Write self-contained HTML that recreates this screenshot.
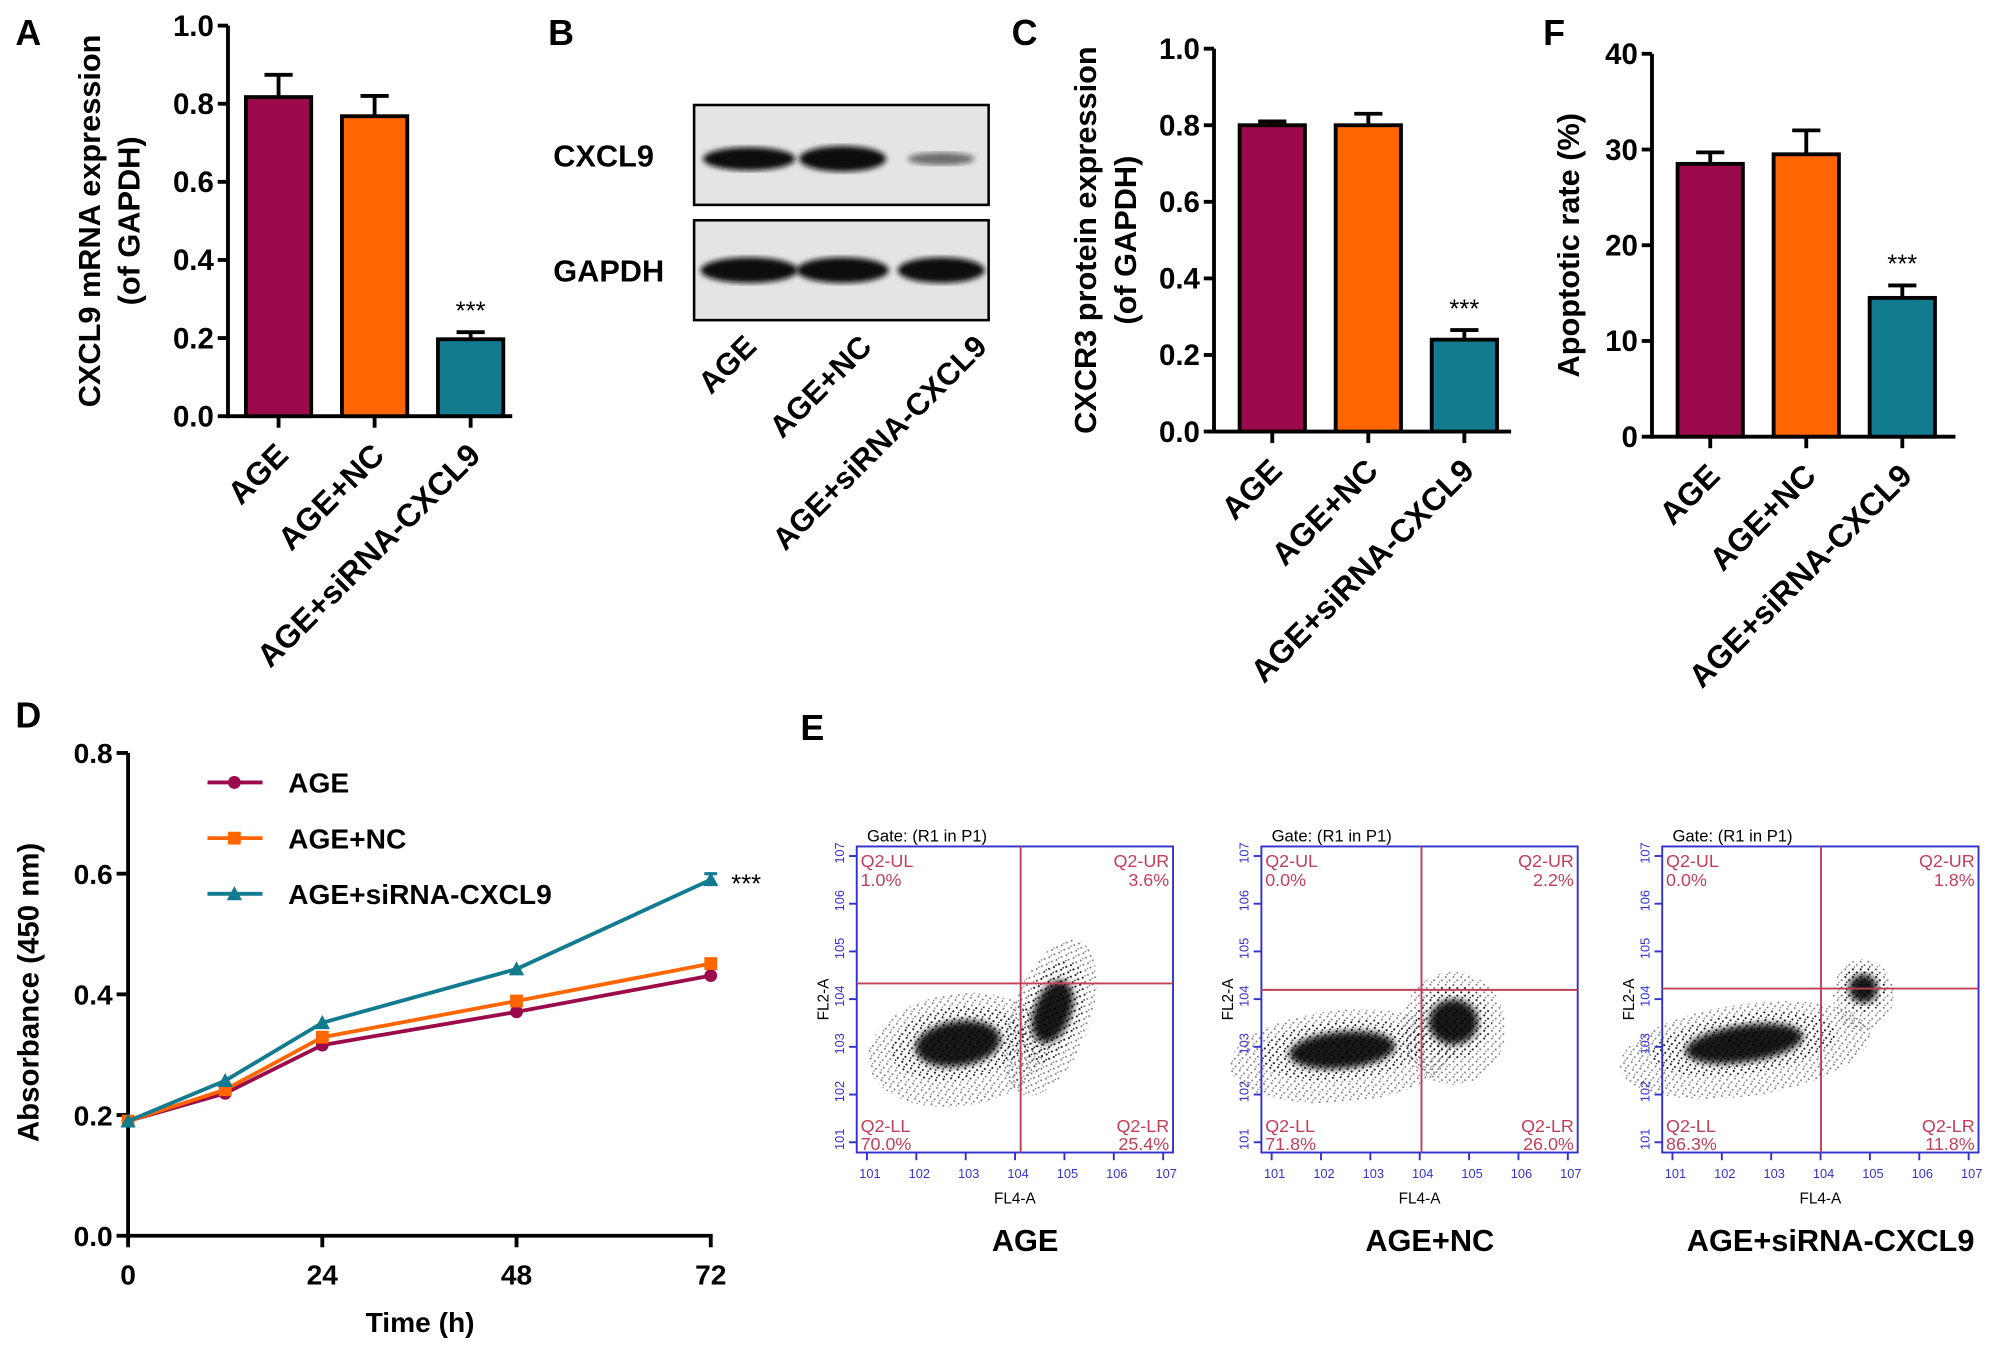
<!DOCTYPE html>
<html><head><meta charset="utf-8">
<style>
html,body{margin:0;padding:0;background:#fff;}
svg{display:block;}
text{font-family:"Liberation Sans",Arial,sans-serif;}
</style></head>
<body>
<svg id="fig" width="2008" height="1351" viewBox="0 0 1568 1055" xmlns="http://www.w3.org/2000/svg">
<defs>
<filter id="blur2"><feGaussianBlur stdDeviation="2"/></filter>
<filter id="blur3"><feGaussianBlur stdDeviation="3"/></filter>
<pattern id="speckle" width="6" height="6" patternUnits="userSpaceOnUse">
<circle cx="1" cy="1" r="0.8" fill="#000"/><circle cx="4" cy="3.5" r="0.8" fill="#000"/><circle cx="2" cy="5" r="0.6" fill="#000"/>
</pattern>
</defs>
<g id="root"></g>
</svg>
<script>
// ---- data ----
const barCategories = ["AGE", "AGE+NC", "AGE+siRNA-CXCL9"];
const barColors = ["#9b0a4b", "#ff6600", "#137b8f"];
const mrnaValues = [0.817, 0.768, 0.197];
const mrnaErrors = [0.057, 0.052, 0.018];
const mrnaTicks = ["0.0", "0.2", "0.4", "0.6", "0.8", "1.0"];
const cxcr3Values = [0.80, 0.80, 0.24];
const cxcr3Errors = [0.01, 0.03, 0.025];
const cxcr3Ticks = ["0.0", "0.2", "0.4", "0.6", "0.8", "1.0"];
const apopValues = [28.5, 29.5, 14.5];
const apopErrors = [1.2, 2.5, 1.3];
const apopTicks = ["0", "10", "20", "30", "40"];
const timePoints = [0, 12, 24, 48, 72];
const timeTicks = ["0", "24", "48", "72"];
const absTicks = ["0.0", "0.2", "0.4", "0.6", "0.8"];
const absAGE = [0.19, 0.236, 0.316, 0.371, 0.431];
const absNC = [0.19, 0.242, 0.329, 0.389, 0.451];
const absSi = [0.19, 0.257, 0.353, 0.442, 0.590];
const flowLabels = ["AGE", "AGE+NC", "AGE+siRNA-CXCL9"];
const flowUL = ["1.0%", "0.0%", "0.0%"];
const flowUR = ["3.6%", "2.2%", "1.8%"];
const flowLL = ["70.0%", "71.8%", "86.3%"];
const flowLR = ["25.4%", "26.0%", "11.8%"];

const NS = "http://www.w3.org/2000/svg";
const root = document.getElementById("root");
function el(tag, attrs, parent, txt) {
  const e = document.createElementNS(NS, tag);
  for (const k in attrs) e.setAttribute(k, attrs[k]);
  if (txt !== undefined) e.textContent = txt;
  (parent || root).appendChild(e);
  return e;
}

function panelLetter(t, x, y) {
  const e = el("text", {x: x, y: y, "font-size": 28, "font-weight": "bold"}, root, t);
  
  
}

function barChart(name, ax, x1, yTop, yBot, ticks, maxV, vals, errs, titles, titleX, off) {
  const g = el("g", {});
  
  
  const ys = v => yBot - (v / maxV) * (yBot - yTop);
  const ya = el("line", {x1: ax, y1: yTop, x2: ax, y2: yBot + 1.5, stroke: "#000", "stroke-width": 3}, g);
  
  
  const xa = el("line", {x1: ax - 1.5, y1: yBot, x2: x1, y2: yBot, stroke: "#000", "stroke-width": 3}, g);
  
  
  ticks.forEach((t) => {
    const y = ys(parseFloat(t));
    el("line", {x1: ax - 8, y1: y, x2: ax, y2: y, stroke: "#000", "stroke-width": 3}, g);
    const tl = el("text", {x: ax - 11, y: y + 8, "font-size": 23, "font-weight": "bold", "text-anchor": "end"}, g, t);
    
    
  });
  vals.forEach((v, i) => {
    const bw = 51;
    const bx = ax + off + i * 75;
    const cx = bx + bw / 2;
    const eb = el("path", {d: `M${cx} ${ys(v)} V${ys(v + errs[i])} M${cx - 11} ${ys(v + errs[i])} H${cx + 11}`, stroke: "#000", "stroke-width": 3, fill: "none"}, g);
    
    
    const r = el("rect", {x: bx, y: ys(v), width: bw, height: yBot - ys(v), fill: barColors[i], stroke: "#000", "stroke-width": 3}, g);
    
    
    el("line", {x1: cx, y1: yBot, x2: cx, y2: yBot + 9, stroke: "#000", "stroke-width": 3}, g);
    const cl = el("text", {x: 0, y: 0, "font-size": 25, "font-weight": "bold", "text-anchor": "end", transform: `translate(${cx + 9},${yBot + 32}) rotate(-45)`}, g, barCategories[i]);
    
    
    if (i === 2) {
      const s = el("text", {x: cx, y: ys(v + errs[i]) - 10, "font-size": 20, "text-anchor": "middle"}, g, "***");
      
      
    }
  });
  const cy = (yTop + yBot) / 2;
  titles.forEach((t, i) => {
    const tt = el("text", {x: 0, y: 0, "font-size": 24, "font-weight": "bold", "text-anchor": "middle", transform: `translate(${titleX + i * 31},${cy}) rotate(-90)`}, g, t);
    
    
  });
}

panelLetter("A", 12, 35);
barChart("chart-a-mrna", 178, 400, 20, 325, mrnaTicks, 1.0, mrnaValues, mrnaErrors, ["CXCL9 mRNA expression", "(of GAPDH)"], 78, 14);
panelLetter("C", 790, 35);
barChart("chart-c-cxcr3", 948, 1180, 38, 337, cxcr3Ticks, 1.0, cxcr3Values, cxcr3Errors, ["CXCR3 protein expression", "(of GAPDH)"], 856, 20);
panelLetter("F", 1205, 35);
barChart("chart-f-apoptosis", 1290, 1527, 42, 341, apopTicks, 40, apopValues, apopErrors, ["Apoptotic rate (%)"], 1233, 20);

// ---- Panel B blot ----
panelLetter("B", 428, 35);
(function () {
  const g = el("g", {});
  
  
  const boxes = [[82, 160, "CXCL9"], [172, 250, "GAPDH"]];
  boxes.forEach((b, k) => {
    const r = el("rect", {x: 542, y: b[0], width: 230, height: b[1] - b[0], fill: "#e4e4e4", stroke: "#000", "stroke-width": 2}, g);
    
    
    const l = el("text", {x: 432, y: (b[0] + b[1]) / 2 + 9, "font-size": 24, "font-weight": "bold"}, g, b[2]);
    
    
    const cy = (b[0] + b[1]) / 2 + (k === 0 ? 3 : 0);
    const lanes = [585, 658, 735];
    const widths = k === 0 ? [36, 34, 26] : [38, 36, 34];
    const hs = k === 0 ? [9, 10, 5] : [10, 10, 10];
    const ops = k === 0 ? [1, 1, 0.55] : [1, 1, 1];
    lanes.forEach((lx, j) => {
      const band = el("ellipse", {cx: lx, cy: cy, rx: widths[j], ry: hs[j], fill: "#111", opacity: ops[j], filter: "url(#blur2)"}, g);
      
      
    });
  });
  const ends = [592, 682, 772];
  barCategories.forEach((c, i) => {
    const t = el("text", {x: 0, y: 0, "font-size": 24, "font-weight": "bold", "text-anchor": "end", transform: `translate(${ends[i]},${272}) rotate(-45)`}, g, c);
    
    
  });
})();

// ---- Panel D line chart ----
panelLetter("D", 12, 568);
(function () {
  const g = el("g", {});
  
  
  const ax = 100, x1 = 555, yTop = 588, yBot = 965;
  const xs = t => ax + t / 72 * (x1 - ax);
  const ys = v => yBot - v / 0.8 * (yBot - yTop);
  el("line", {x1: ax, y1: yTop, x2: ax, y2: yBot + 1.5, stroke: "#000", "stroke-width": 3}, g);
  el("line", {x1: ax - 1.5, y1: yBot, x2: x1 + 1.5, y2: yBot, stroke: "#000", "stroke-width": 3}, g);
  absTicks.forEach(t => {
    const y = ys(parseFloat(t));
    el("line", {x1: ax - 9, y1: y, x2: ax, y2: y, stroke: "#000", "stroke-width": 3}, g);
    const tl = el("text", {x: ax - 12, y: y + 8, "font-size": 22, "font-weight": "bold", "text-anchor": "end"}, g, t);
    
    
  });
  timeTicks.forEach(t => {
    const x = xs(parseFloat(t));
    el("line", {x1: x, y1: yBot, x2: x, y2: yBot + 9, stroke: "#000", "stroke-width": 3}, g);
    const tl = el("text", {x: x, y: yBot + 38, "font-size": 22, "font-weight": "bold", "text-anchor": "middle"}, g, t);
    
    
  });
  const xt = el("text", {x: 328, y: 1040, "font-size": 22, "font-weight": "bold", "text-anchor": "middle"}, g, "Time (h)");
  
  
  const yt = el("text", {x: 0, y: 0, "font-size": 23, "font-weight": "bold", "text-anchor": "middle", transform: `translate(30,775) rotate(-90)`}, g, "Absorbance (450 nm)");
  
  
  const series = [[absAGE, barColors[0], "circle"], [absNC, barColors[1], "square"], [absSi, barColors[2], "triangle"]];
  function marker(shape, x, y, c, parent) {
    if (shape === "circle") return el("circle", {cx: x, cy: y, r: 5, fill: c}, parent);
    if (shape === "square") return el("rect", {x: x - 5, y: y - 5, width: 10, height: 10, fill: c}, parent);
    return el("path", {d: `M${x} ${y - 6} L${x + 6} ${y + 5} L${x - 6} ${y + 5} Z`, fill: c}, parent);
  }
  series.forEach((s, k) => {
    const pts = timePoints.map((t, i) => xs(t) + "," + ys(s[0][i])).join(" ");
    const pl = el("polyline", {points: pts, fill: "none", stroke: s[1], "stroke-width": 3}, g);
    
    
    timePoints.forEach((t, i) => {
      const m = marker(s[2], xs(t), ys(s[0][i]), s[1], g);
      
      
    });
    const ly = 611 + k * 43.5;
    const lg = el("g", {}, g);
    
    
    el("line", {x1: 162, y1: ly, x2: 205, y2: ly, stroke: s[1], "stroke-width": 3}, lg);
    marker(s[2], 183, ly, s[1], lg);
    el("text", {x: 225, y: ly + 8, "font-size": 22, "font-weight": "bold"}, lg, barCategories[k]);
  });
  const last = absSi.length - 1;
  el("path", {d: `M${xs(72)} ${ys(absSi[last] - 0.01)} V${ys(absSi[last] + 0.01)} M${xs(72) - 5} ${ys(absSi[last] + 0.01)} H${xs(72) + 5}`, stroke: barColors[2], "stroke-width": 2.5}, g);
  const st = el("text", {x: 571, y: ys(absSi[last]) + 10, "font-size": 20}, g, "***");
  
  
})();

// ---- Panel E flow cytometry ----
panelLetter("E", 625, 578);
(function () {
  const offs = [0, 316, 629];
  const cross = [[797, 768], [1110, 773], [1422, 772]];
  const blobs = [
    [[748, 815, 42, 22, -8], [822, 790, 18, 32, 20]],
    [[1048, 820, 52, 18, -5], [1135, 798, 24, 22, 0]],
    [[1362, 815, 58, 18, -8], [1455, 772, 14, 14, 0]]
  ];
  offs.forEach((o, p) => {
    const g = el("g", {});
    
    
    const L = 669 + o, R = 916 + o, T = 661, B = 900;
    el("text", {x: L + 8, y: T - 4, "font-size": 13}, g, "Gate: (R1 in P1)");
    blobs[p].forEach(b => {
      el("ellipse", {cx: b[0], cy: b[1] + 5, rx: b[2] * 1.7, ry: b[3] * 2.0, fill: "url(#speckle)", opacity: 0.5, transform: `rotate(${b[4]} ${b[0]} ${b[1]})`}, g);
      el("ellipse", {cx: b[0], cy: b[1], rx: b[2] * 1.25, ry: b[3] * 1.3, fill: "url(#speckle)", opacity: 0.8, transform: `rotate(${b[4]} ${b[0]} ${b[1]})`}, g);
      el("ellipse", {cx: b[0], cy: b[1], rx: b[2] * 0.8, ry: b[3] * 0.8, fill: "#000", opacity: 0.9, filter: "url(#blur3)", transform: `rotate(${b[4]} ${b[0]} ${b[1]})`}, g);
    });
    const box = el("rect", {x: L, y: T, width: R - L, height: B - T, fill: "none", stroke: "#3333cc", "stroke-width": 1.5}, g);
    
    
    el("line", {x1: cross[p][0], y1: T, x2: cross[p][0], y2: B, stroke: "#c0405a", "stroke-width": 1.5}, g);
    el("line", {x1: L, y1: cross[p][1], x2: R, y2: cross[p][1], stroke: "#c0405a", "stroke-width": 1.5}, g);
    for (let i = 0; i <= 6; i++) {
      const x = L + 8 + i * (R - L - 8) / 6.2;
      el("line", {x1: x, y1: B, x2: x, y2: B + 6, stroke: "#3333cc", "stroke-width": 1.5}, g);
      el("text", {x: x - 6, y: B + 20, "font-size": 10, fill: "#3333cc"}, g, "10" + (i + 1));
      const y = B - 8 - i * (B - T - 8) / 6.2;
      el("line", {x1: L - 6, y1: y, x2: L, y2: y, stroke: "#3333cc", "stroke-width": 1.5}, g);
      el("text", {x: 0, y: 0, "font-size": 10, fill: "#3333cc", transform: `translate(${L - 10},${y + 6}) rotate(-90)`}, g, "10" + (i + 1));
    }
    el("text", {x: (L + R) / 2, y: B + 40, "font-size": 12, "text-anchor": "middle"}, g, "FL4-A");
    el("text", {x: 0, y: 0, "font-size": 12, "text-anchor": "middle", transform: `translate(${L - 22},${(T + B) / 2}) rotate(-90)`}, g, "FL2-A");
    const red = "#c0405a";
    el("text", {x: L + 3, y: T + 16, "font-size": 14, fill: red}, g, "Q2-UL");
    el("text", {x: L + 3, y: T + 31, "font-size": 14, fill: red}, g, flowUL[p]);
    el("text", {x: R - 3, y: T + 16, "font-size": 14, fill: red, "text-anchor": "end"}, g, "Q2-UR");
    el("text", {x: R - 3, y: T + 31, "font-size": 14, fill: red, "text-anchor": "end"}, g, flowUR[p]);
    el("text", {x: L + 3, y: B - 16, "font-size": 14, fill: red}, g, "Q2-LL");
    el("text", {x: L + 3, y: B - 2, "font-size": 14, fill: red}, g, flowLL[p]);
    el("text", {x: R - 3, y: B - 16, "font-size": 14, fill: red, "text-anchor": "end"}, g, "Q2-LR");
    el("text", {x: R - 3, y: B - 2, "font-size": 14, fill: red, "text-anchor": "end"}, g, flowLR[p]);
    const t = el("text", {x: (L + R) / 2 + 8, y: 977, "font-size": 24, "font-weight": "bold", "text-anchor": "middle"}, g, flowLabels[p]);
    
    
  });
})();
</script>
</body></html>
